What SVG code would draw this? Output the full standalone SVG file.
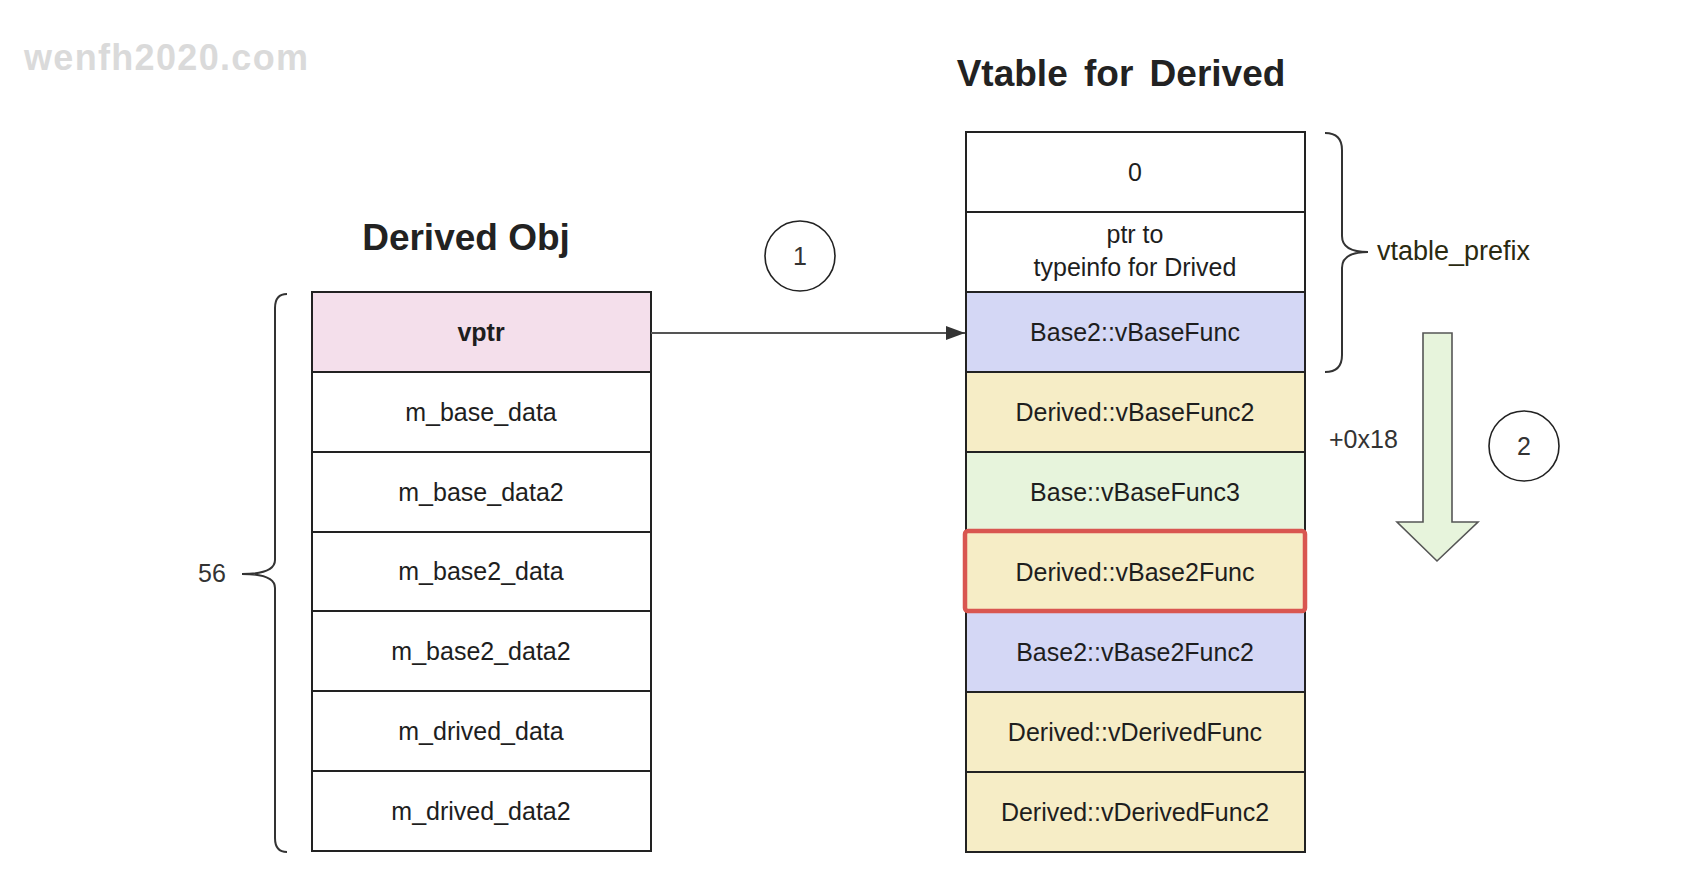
<svg xmlns="http://www.w3.org/2000/svg" width="1684" height="894" viewBox="0 0 1684 894">
<style>
.cell{stroke:#222;stroke-width:2}
.t{font-family:"Liberation Sans",Arial,sans-serif;font-size:25px;fill:#1e1e1e;text-anchor:middle}
.b{font-weight:bold}
.title{font-family:"Liberation Sans",Arial,sans-serif;font-size:37px;font-weight:bold;fill:#222;text-anchor:middle}
.lbl{font-family:"Liberation Sans",Arial,sans-serif;font-size:25px;fill:#333}
.brace{fill:none;stroke:#333;stroke-width:2}
</style>
<defs>
<marker id="ah" viewBox="0 0 19 14" refX="19" refY="7" markerWidth="19" markerHeight="14" markerUnits="userSpaceOnUse" orient="auto">
<path d="M0,0 L19,7 L0,14 Z" fill="#333"/>
</marker>
</defs>
<rect width="1684" height="894" fill="#fff"/>
<text x="24" y="70" font-family="Liberation Sans,Arial,sans-serif" font-size="36" font-weight="bold" fill="#dadada" textLength="284" lengthAdjust="spacing">wenfh2020.com</text>
<text class="title" x="466" y="250">Derived Obj</text>
<text class="title" x="1121" y="86" font-size="36" word-spacing="6">Vtable for Derived</text>

<g id="derived-obj">
<g id="vptr"><rect class="cell" x="312" y="292" width="339" height="80" fill="#f4dfeb"/><text class="t b" x="481" y="341">vptr</text></g>
<g id="m_base_data"><rect class="cell" x="312" y="372" width="339" height="80" fill="#fff"/><text class="t" x="481" y="421">m_base_data</text></g>
<g id="m_base_data2"><rect class="cell" x="312" y="452" width="339" height="80" fill="#fff"/><text class="t" x="481" y="501">m_base_data2</text></g>
<g id="m_base2_data"><rect class="cell" x="312" y="532" width="339" height="79" fill="#fff"/><text class="t" x="481" y="580">m_base2_data</text></g>
<g id="m_base2_data2"><rect class="cell" x="312" y="611" width="339" height="80" fill="#fff"/><text class="t" x="481" y="660">m_base2_data2</text></g>
<g id="m_drived_data"><rect class="cell" x="312" y="691" width="339" height="80" fill="#fff"/><text class="t" x="481" y="740">m_drived_data</text></g>
<g id="m_drived_data2"><rect class="cell" x="312" y="771" width="339" height="80" fill="#fff"/><text class="t" x="481" y="820">m_drived_data2</text></g>
</g>

<g id="vtable">
<g id="v0"><rect class="cell" x="966" y="132" width="339" height="80" fill="#fff"/><text class="t" x="1135" y="181">0</text></g>
<g id="vtypeinfo"><rect class="cell" x="966" y="212" width="339" height="80" fill="#fff"/><text class="t" x="1135" y="243">ptr to</text><text class="t" x="1135" y="276">typeinfo for Drived</text></g>
<g id="v-base2-vbasefunc"><rect class="cell" x="966" y="292" width="339" height="80" fill="#d4d7f5"/><text class="t" x="1135" y="341">Base2::vBaseFunc</text></g>
<g id="v-derived-vbasefunc2"><rect class="cell" x="966" y="372" width="339" height="80" fill="#f6edc6"/><text class="t" x="1135" y="421">Derived::vBaseFunc2</text></g>
<g id="v-base-vbasefunc3"><rect class="cell" x="966" y="452" width="339" height="80" fill="#e7f4dc"/><text class="t" x="1135" y="501">Base::vBaseFunc3</text></g>
<g id="v-base2-vbase2func2"><rect class="cell" x="966" y="612" width="339" height="80" fill="#d4d7f5"/><text class="t" x="1135" y="661">Base2::vBase2Func2</text></g>
<g id="v-derived-vderivedfunc"><rect class="cell" x="966" y="692" width="339" height="80" fill="#f6edc6"/><text class="t" x="1135" y="741">Derived::vDerivedFunc</text></g>
<g id="v-derived-vderivedfunc2"><rect class="cell" x="966" y="772" width="339" height="80" fill="#f6edc6"/><text class="t" x="1135" y="821">Derived::vDerivedFunc2</text></g>
<g id="v-derived-vbase2func"><rect x="965" y="531" width="340" height="80" rx="3" fill="#f6edc6" stroke="#d95650" stroke-width="4.5"/><text class="t" x="1135" y="581">Derived::vBase2Func</text></g>
</g>

<g id="braces">
<path class="brace" d="M287,294 Q275,294 275,308 L275,560 Q275,574 242,574 Q275,574 275,588 L275,838 Q275,852 287,852"/>
<text class="lbl" x="198" y="582" font-size="26">56</text>
<path class="brace" d="M1325,133 Q1342,133 1342,150 L1342,236 Q1342,252 1368,252 Q1342,252 1342,268 L1342,355 Q1342,372 1325,372"/>
<text x="1377" y="260" font-family="Liberation Sans,Arial,sans-serif" font-size="27" fill="#2a2a10">vtable_prefix</text>
</g>

<g id="connectors">
<line x1="651" y1="333" x2="965" y2="333" stroke="#555" stroke-width="2" marker-end="url(#ah)"/>
</g>

<g id="step1"><circle cx="800" cy="256" r="35" fill="#fff" stroke="#222" stroke-width="1.6"/><text class="lbl" x="800" y="265" text-anchor="middle" font-size="24">1</text></g>
<g id="step2"><circle cx="1524" cy="446" r="35" fill="#fff" stroke="#222" stroke-width="1.6"/><text class="lbl" x="1524" y="455" text-anchor="middle" font-size="24">2</text></g>
<g id="offset"><text class="lbl" x="1329" y="448" fill="#222">+0x18</text></g>
<g id="down-arrow"><path d="M1423,333 L1452,333 L1452,522 L1478,522 L1437,561 L1397,522 L1423,522 Z" fill="#e7f4dc" stroke="#555" stroke-width="1.6"/></g>
</svg>
